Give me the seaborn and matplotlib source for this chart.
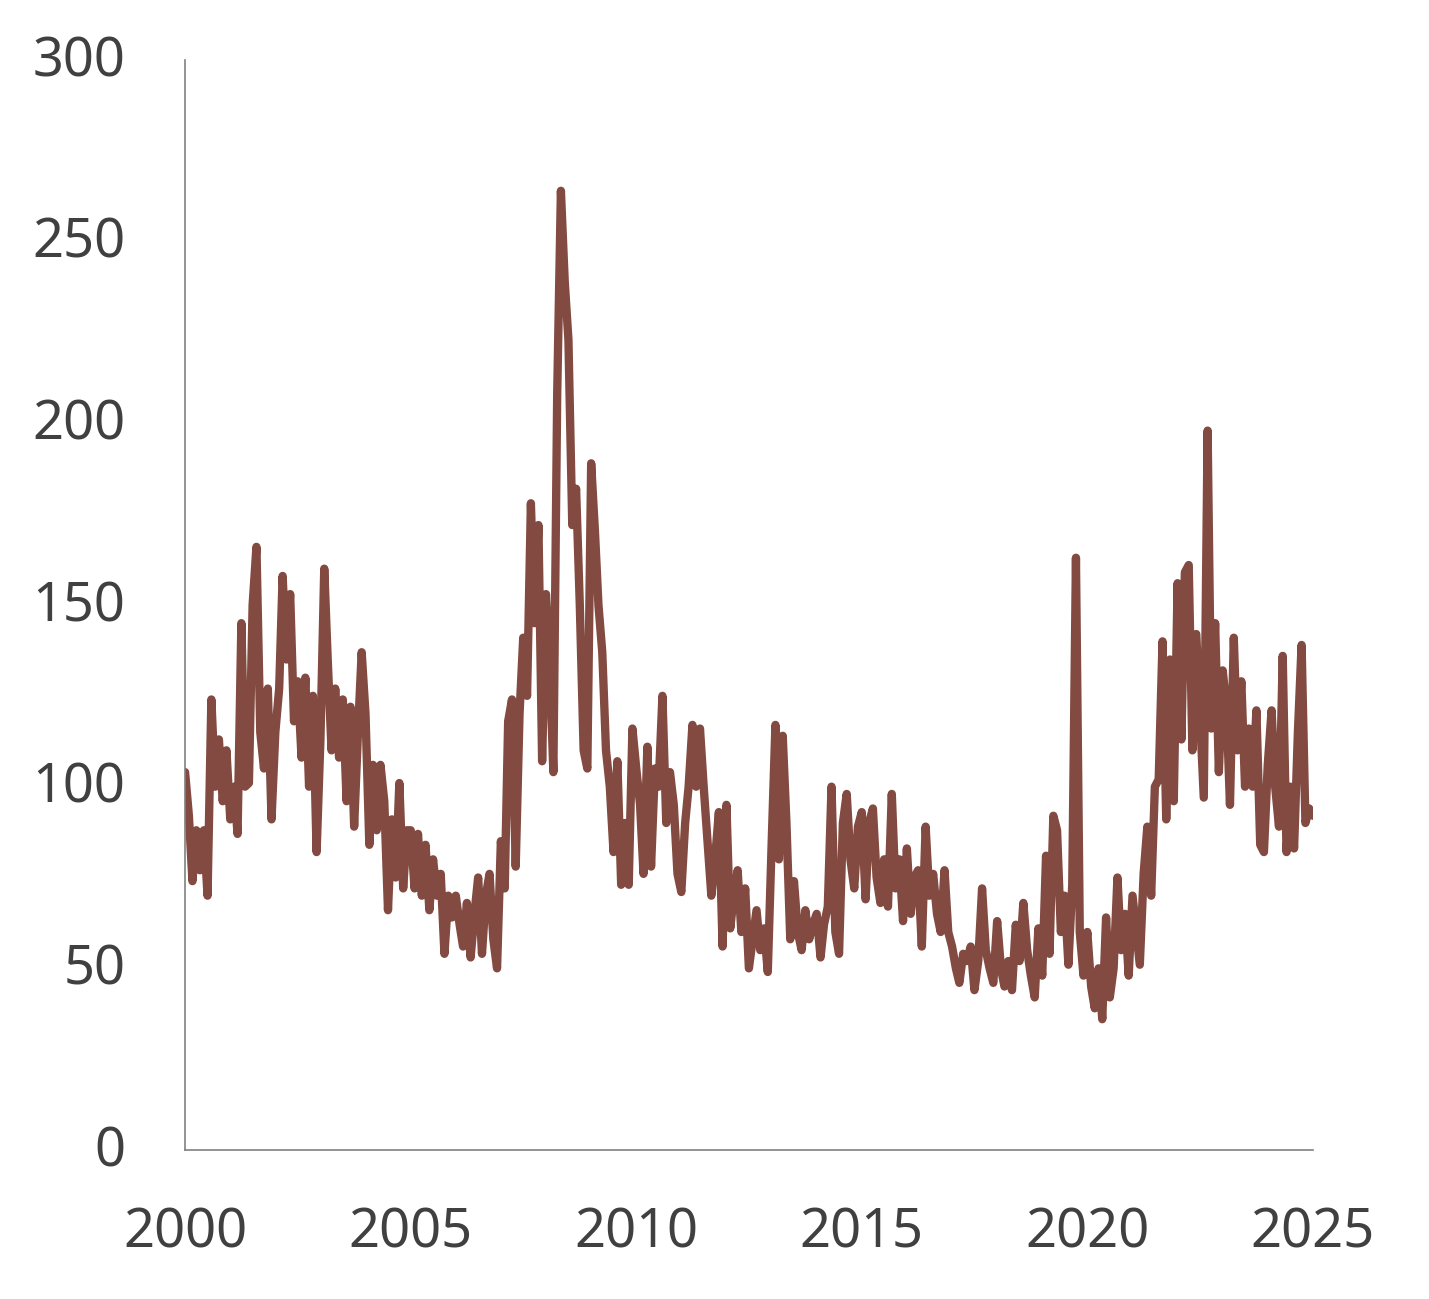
import pandas as pd
import numpy as np
import matplotlib
matplotlib.use("Agg")
import matplotlib.pyplot as plt
import matplotlib.dates as mdates
import matplotlib.transforms as mtransforms
import seaborn as sns

# Valores mensais (jan/2000 .. jan/2025)
v2000 = [104, 92, 74, 88, 77, 88, 70, 124, 100, 113, 96, 110]
v2001 = [91, 100, 87, 145, 100, 101, 150, 166, 115, 105, 127, 91]
v2002 = [115, 127, 158, 135, 153, 118, 129, 108, 130, 100, 125, 82]
v2003 = [113, 160, 135, 110, 127, 108, 124, 96, 122, 89, 115, 137]
v2004 = [120, 84, 106, 88, 106, 96, 66, 91, 75, 101, 72, 88]
v2005 = [88, 72, 87, 70, 84, 66, 80, 70, 76, 54, 70, 64]
v2006 = [70, 62, 56, 68, 53, 65, 75, 54, 70, 76, 58, 50]
v2007 = [85, 72, 118, 124, 78, 120, 141, 125, 178, 145, 172, 107]
v2008 = [153, 133, 104, 208, 264, 239, 223, 172, 182, 150, 110, 105]
v2009 = [189, 170, 150, 137, 110, 100, 82, 107, 73, 90, 73, 116]
v2010 = [105, 95, 76, 111, 78, 105, 100, 125, 90, 104, 95, 76]
v2011 = [71, 90, 100, 117, 100, 116, 100, 85, 70, 80, 93, 56]
v2012 = [95, 61, 70, 77, 60, 72, 50, 58, 66, 55, 61, 49]
v2013 = [84, 117, 80, 114, 90, 58, 74, 60, 55, 66, 58, 62]
v2014 = [65, 53, 62, 67, 100, 60, 54, 90, 98, 80, 72, 89]
v2015 = [93, 69, 90, 94, 75, 68, 80, 67, 98, 72, 80, 63]
v2016 = [83, 65, 75, 77, 56, 89, 70, 76, 65, 60, 77, 60]
v2017 = [56, 50, 46, 54, 52, 56, 44, 52, 72, 55, 50, 46]
v2018 = [63, 50, 45, 52, 44, 62, 52, 68, 55, 48, 42, 61]
v2019 = [48, 81, 54, 92, 88, 60, 70, 51, 73, 163, 60, 48]
v2020 = [60, 45, 39, 50, 36, 64, 42, 50, 75, 55, 65, 48]
v2021 = [70, 60, 51, 76, 89, 70, 100, 102, 140, 91, 135, 96]
v2022 = [156, 113, 159, 161, 110, 142, 120, 97, 198, 116, 145, 104]
v2023 = [132, 122, 95, 141, 110, 129, 100, 116, 100, 121, 84, 82]
v2024 = [106, 121, 100, 89, 136, 82, 100, 83, 115, 139, 90, 94]
v2025 = [92]

valores = (v2000 + v2001 + v2002 + v2003 + v2004 + v2005 + v2006 + v2007 + v2008
           + v2009 + v2010 + v2011 + v2012 + v2013 + v2014 + v2015 + v2016 + v2017
           + v2018 + v2019 + v2020 + v2021 + v2022 + v2023 + v2024 + v2025)
datas = pd.date_range("2000-01-01", periods=len(valores), freq="MS")
df = pd.DataFrame({"data": datas, "valor": valores})

anos_ticks = [2000, 2005, 2010, 2015, 2020, 2025]
y_ticks = [0, 50, 100, 150, 200, 250, 300]

sns.set_theme(style="white")
plt.rcParams["font.family"] = ["Noto Sans", "DejaVu Sans"]

fig = plt.figure(figsize=(14.29, 12.99), dpi=100)
ax = fig.add_axes([0.1295, 0.1147, 0.7893, 0.8391])

sns.lineplot(data=df, x="data", y="valor", ax=ax, color="#824a40", linewidth=6.0,
             solid_joinstyle="round", solid_capstyle="round")

ax.set_ylim(0, 300)
ax.set_xlim(pd.Timestamp("2000-01-01"), pd.Timestamp("2025-01-01"))
ax.set_yticks(y_ticks)
ax.set_xticks([pd.Timestamp(f"{a}-01-01") for a in anos_ticks])
ax.xaxis.set_major_formatter(mdates.DateFormatter("%Y"))
ax.set_xlabel("")
ax.set_ylabel("")

for lado in ["top", "right"]:
    ax.spines[lado].set_visible(False)
for lado in ["left", "bottom"]:
    ax.spines[lado].set_color("#808080")
    ax.spines[lado].set_linewidth(1.2)

ax.tick_params(axis="both", length=0, labelsize=39, labelcolor="#404040")
ax.tick_params(axis="y", pad=43)
ax.tick_params(axis="x", pad=40)

# rótulos do eixo y ligeiramente acima
desloc = mtransforms.ScaledTranslation(0, 5 / 100, fig.dpi_scale_trans)
for lbl in ax.get_yticklabels():
    lbl.set_transform(lbl.get_transform() + desloc)

fig.savefig("out.png", dpi=100)
